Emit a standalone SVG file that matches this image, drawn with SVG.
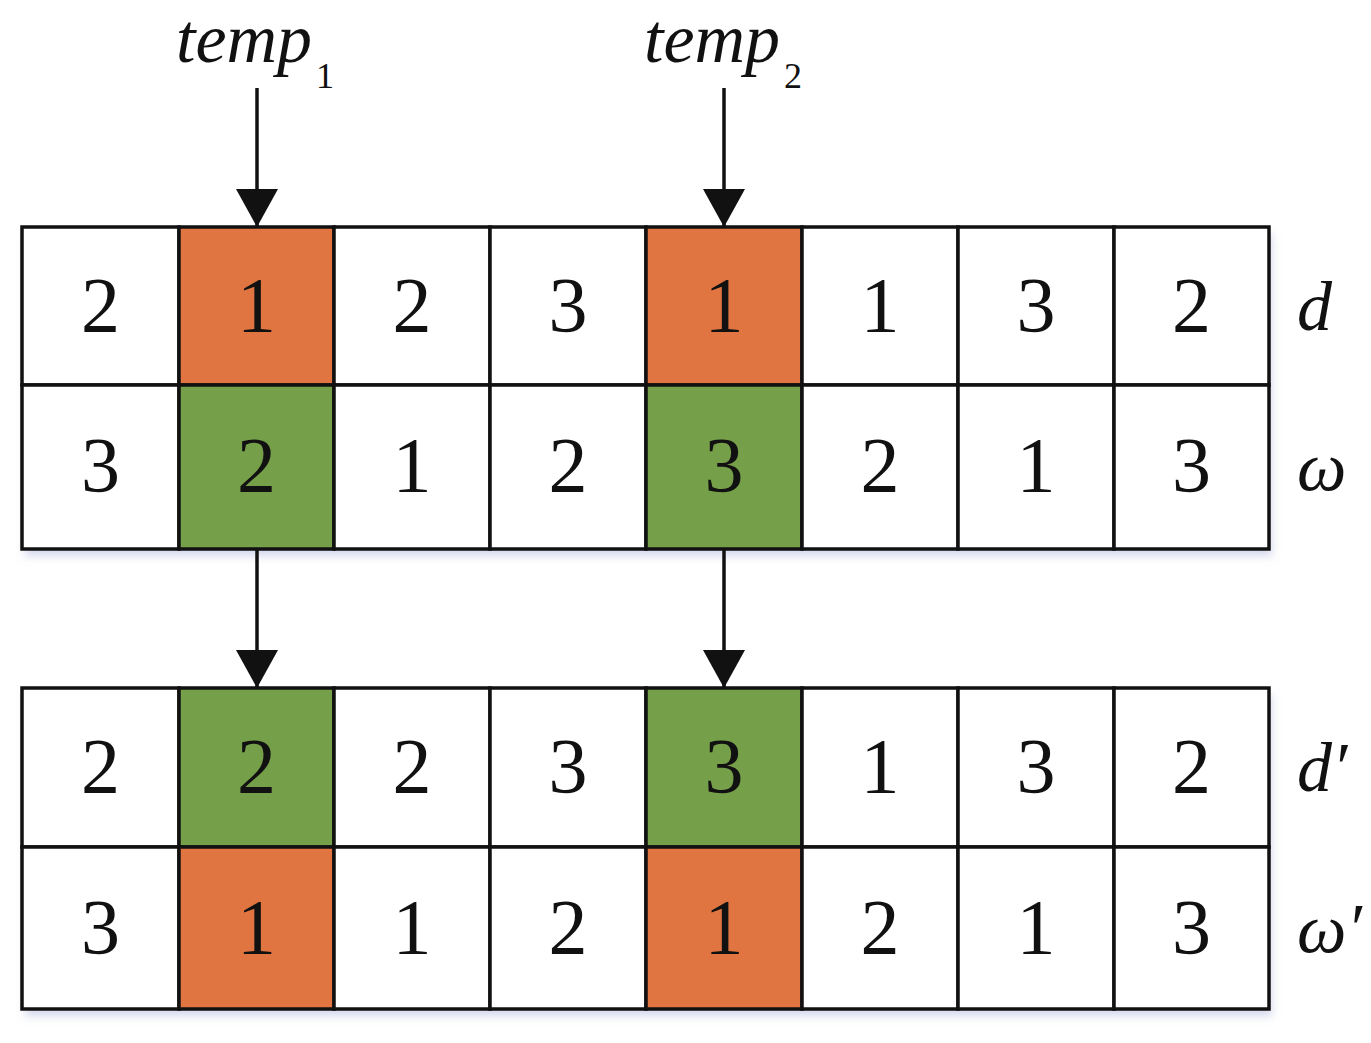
<svg xmlns="http://www.w3.org/2000/svg" width="1371" height="1043" viewBox="0 0 1371 1043">
<style>
.num{font-size:78px;text-anchor:middle;fill:#111}
.lab{font-style:italic;font-size:70px;fill:#111}
.sub{font-style:normal;font-size:36px;fill:#111}
.cell{stroke:#111;stroke-width:3.5;fill:#fff}
.or{fill:#E07542}
.gr{fill:#75A049}
.conn{stroke:#111;stroke-width:3.5;fill:none}
</style>
<defs>
<marker id="ah" markerWidth="38" markerHeight="42" viewBox="0 0 38 42" refX="38" refY="21" orient="auto" markerUnits="userSpaceOnUse">
<path d="M0,0 L38,21 L0,42 Z" fill="#111"/>
</marker>
<filter id="sh" x="-5%" y="-10%" width="112%" height="125%">
<feDropShadow dx="3" dy="7" stdDeviation="4" flood-color="#aab0dd" flood-opacity="0.5"/>
</filter>
</defs>
<g font-family="Liberation Serif, Times New Roman, DejaVu Serif, serif">
<g id="table1">
<rect x="22" y="227" width="1247" height="322" fill="#fff" filter="url(#sh)"/>
<g>
<rect class="cell" x="22" y="227" width="157" height="158"/>
<rect class="cell or" x="179" y="227" width="155" height="158"/>
<rect class="cell" x="334" y="227" width="156" height="158"/>
<rect class="cell" x="490" y="227" width="156" height="158"/>
<rect class="cell or" x="646" y="227" width="156" height="158"/>
<rect class="cell" x="802" y="227" width="156" height="158"/>
<rect class="cell" x="958" y="227" width="156" height="158"/>
<rect class="cell" x="1114" y="227" width="155" height="158"/>
<rect class="cell" x="22" y="385" width="157" height="164"/>
<rect class="cell gr" x="179" y="385" width="155" height="164"/>
<rect class="cell" x="334" y="385" width="156" height="164"/>
<rect class="cell" x="490" y="385" width="156" height="164"/>
<rect class="cell gr" x="646" y="385" width="156" height="164"/>
<rect class="cell" x="802" y="385" width="156" height="164"/>
<rect class="cell" x="958" y="385" width="156" height="164"/>
<rect class="cell" x="1114" y="385" width="155" height="164"/>
</g>
<g>
<text class="num" x="100.5" y="331">2</text>
<text class="num" x="256.5" y="331">1</text>
<text class="num" x="412" y="331">2</text>
<text class="num" x="568" y="331">3</text>
<text class="num" x="724" y="331">1</text>
<text class="num" x="880" y="331">1</text>
<text class="num" x="1036" y="331">3</text>
<text class="num" x="1191.5" y="331">2</text>
<text class="num" x="100.5" y="491">3</text>
<text class="num" x="256.5" y="491">2</text>
<text class="num" x="412" y="491">1</text>
<text class="num" x="568" y="491">2</text>
<text class="num" x="724" y="491">3</text>
<text class="num" x="880" y="491">2</text>
<text class="num" x="1036" y="491">1</text>
<text class="num" x="1191.5" y="491">3</text>
</g>
<text class="lab" x="1297" y="330">d</text>
<text class="lab" x="1297" y="490">ω</text>
</g>
<g id="table2">
<rect x="22" y="688" width="1247" height="321" fill="#fff" filter="url(#sh)"/>
<g>
<rect class="cell" x="22" y="688" width="157" height="159"/>
<rect class="cell gr" x="179" y="688" width="155" height="159"/>
<rect class="cell" x="334" y="688" width="156" height="159"/>
<rect class="cell" x="490" y="688" width="156" height="159"/>
<rect class="cell gr" x="646" y="688" width="156" height="159"/>
<rect class="cell" x="802" y="688" width="156" height="159"/>
<rect class="cell" x="958" y="688" width="156" height="159"/>
<rect class="cell" x="1114" y="688" width="155" height="159"/>
<rect class="cell" x="22" y="847" width="157" height="162"/>
<rect class="cell or" x="179" y="847" width="155" height="162"/>
<rect class="cell" x="334" y="847" width="156" height="162"/>
<rect class="cell" x="490" y="847" width="156" height="162"/>
<rect class="cell or" x="646" y="847" width="156" height="162"/>
<rect class="cell" x="802" y="847" width="156" height="162"/>
<rect class="cell" x="958" y="847" width="156" height="162"/>
<rect class="cell" x="1114" y="847" width="155" height="162"/>
</g>
<g>
<text class="num" x="100.5" y="792">2</text>
<text class="num" x="256.5" y="792">2</text>
<text class="num" x="412" y="792">2</text>
<text class="num" x="568" y="792">3</text>
<text class="num" x="724" y="792">3</text>
<text class="num" x="880" y="792">1</text>
<text class="num" x="1036" y="792">3</text>
<text class="num" x="1191.5" y="792">2</text>
<text class="num" x="100.5" y="953">3</text>
<text class="num" x="256.5" y="953">1</text>
<text class="num" x="412" y="953">1</text>
<text class="num" x="568" y="953">2</text>
<text class="num" x="724" y="953">1</text>
<text class="num" x="880" y="953">2</text>
<text class="num" x="1036" y="953">1</text>
<text class="num" x="1191.5" y="953">3</text>
</g>
<text class="lab" x="1297" y="791">d′</text>
<text class="lab" x="1297" y="952">ω′</text>
</g>
<g id="temp1">
<text class="lab" x="176" y="62">temp</text>
<text class="sub" x="316" y="88">1</text>
</g>
<g id="temp2">
<text class="lab" x="644" y="62">temp</text>
<text class="sub" x="784" y="88">2</text>
</g>
</g>
<g id="connectors">
<line class="conn" x1="257" y1="88" x2="257" y2="227" marker-end="url(#ah)"/>
<line class="conn" x1="724" y1="88" x2="724" y2="227" marker-end="url(#ah)"/>
<line class="conn" x1="257" y1="549" x2="257" y2="688" marker-end="url(#ah)"/>
<line class="conn" x1="724" y1="549" x2="724" y2="688" marker-end="url(#ah)"/>
</g>
</svg>
